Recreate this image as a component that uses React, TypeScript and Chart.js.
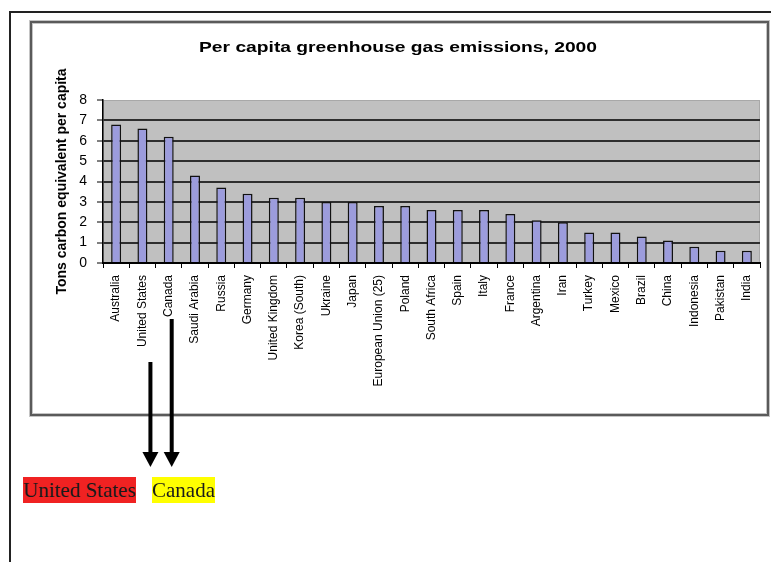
import React, { useEffect, useRef } from 'react';
import { Chart, registerables } from 'chart.js';

Chart.register(...registerables);

const countries = [
  'Australia', 'United States', 'Canada', 'Saudi Arabia', 'Russia', 'Germany',
  'United Kingdom', 'Korea (South)', 'Ukraine', 'Japan', 'European Union (25)', 'Poland',
  'South Africa', 'Spain', 'Italy', 'France', 'Argentina', 'Iran', 'Turkey', 'Mexico',
  'Brazil', 'China', 'Indonesia', 'Pakistan', 'India',
];
const emissions = [
  6.8, 6.6, 6.2, 4.3, 3.7, 3.4, 3.2, 3.2, 3.0, 3.0, 2.8, 2.8,
  2.6, 2.6, 2.6, 2.4, 2.1, 2.0, 1.5, 1.5, 1.3, 1.1, 0.8, 0.6, 0.6,
];
const yMin = 0;
const yMax = 8;
const yStep = 1;
const chartTitle = 'Per capita greenhouse gas emissions, 2000';
const yAxisTitle = 'Tons carbon equivalent per capita';
const calloutNames = ['United States', 'Canada'];
const calloutColors = ['#f02222', '#ffff00'];

export default function App() {
  const ref = useRef<HTMLCanvasElement>(null);

  useEffect(() => {
    const canvas = ref.current;
    if (!canvas) return;

    const decor = {
      id: 'decor',
      beforeDraw(chart: any) {
        const { ctx, chartArea: a } = chart;
        ctx.save();
        // outer page frame
        ctx.strokeStyle = '#222';
        ctx.lineWidth = 2;
        ctx.beginPath();
        ctx.moveTo(10, 562);
        ctx.lineTo(10, 12);
        ctx.lineTo(771, 12);
        ctx.stroke();
        // inner chart box
        ctx.strokeStyle = '#c4c4c4';
        ctx.lineWidth = 4;
        ctx.strokeRect(31, 22, 737, 393);
        ctx.strokeStyle = '#5a5a5a';
        ctx.lineWidth = 2;
        ctx.strokeRect(31, 22, 737, 393);
        // plot background
        ctx.fillStyle = '#c0c0c0';
        ctx.fillRect(a.left, a.top, a.right - a.left, a.bottom - a.top);
        ctx.strokeStyle = '#a8a8a8';
        ctx.lineWidth = 1;
        ctx.strokeRect(a.left + 0.5, a.top + 0.5, a.right - a.left - 1, a.bottom - a.top);
        ctx.restore();
      },
      afterDraw(chart: any) {
        const { ctx } = chart;
        ctx.save();
        // title
        ctx.font = 'bold 14px Arial';
        const w = ctx.measureText(chartTitle).width;
        ctx.translate(398, 48);
        ctx.scale(398 / w, 1);
        ctx.fillStyle = '#000';
        ctx.textAlign = 'center';
        ctx.textBaseline = 'middle';
        ctx.fillText(chartTitle, 0, 0);
        ctx.restore();

        // callout arrows
        const xs = chart.scales.x;
        const arrows = [
          { name: calloutNames[0], dx: 8, top: 362 },
          { name: calloutNames[1], dx: 3, top: 319 },
        ];
        ctx.save();
        ctx.strokeStyle = '#000';
        ctx.fillStyle = '#000';
        arrows.forEach((ar) => {
          const x = xs.getPixelForValue(countries.indexOf(ar.name)) + ar.dx;
          ctx.lineWidth = 4;
          ctx.beginPath();
          ctx.moveTo(x, ar.top);
          ctx.lineTo(x, 454);
          ctx.stroke();
          ctx.beginPath();
          ctx.moveTo(x - 8, 452);
          ctx.lineTo(x + 8, 452);
          ctx.lineTo(x, 467);
          ctx.closePath();
          ctx.fill();
        });
        ctx.restore();
      },
    };

    const chart = new Chart(canvas, {
      type: 'bar',
      data: {
        labels: countries,
        datasets: [
          {
            data: emissions,
            backgroundColor: '#9c9cdc',
            borderColor: '#111',
            borderWidth: 1.5,
            barPercentage: 0.38,
            categoryPercentage: 1,
          },
        ],
      },
      options: {
        responsive: false,
        animation: false,
        devicePixelRatio: 1,
        layout: { padding: { left: 54, top: 100, right: 11, bottom: 0 } },
        plugins: {
          legend: { display: false },
          tooltip: { enabled: false },
          title: { display: false },
        },
        scales: {
          x: {
            grid: {
              display: true,
              drawOnChartArea: false,
              drawTicks: true,
              tickLength: 5,
              color: '#000',
              offset: true,
            },
            border: { display: true, color: '#000', width: 2 },
            ticks: {
              autoSkip: false,
              maxRotation: 90,
              minRotation: 90,
              font: { family: 'Arial', size: 12 },
              color: '#000',
              padding: 7,
            },
            afterFit(s: any) {
              s.height = 299;
            },
          },
          y: {
            min: yMin,
            max: yMax,
            ticks: {
              stepSize: yStep,
              font: { family: 'Arial', size: 14 },
              color: '#000',
              padding: 10,
            },
            grid: {
              color: (c: any) => (c.tick && c.tick.value === yMax ? 'rgba(0,0,0,0)' : '#2e2e2e'),
              lineWidth: 2,
              tickColor: '#000',
              tickWidth: 1,
              tickLength: 6,
            },
            border: { display: true, color: '#000', width: 1.5 },
            title: {
              display: true,
              text: yAxisTitle,
              font: { family: 'Arial', size: 14, weight: 'bold' },
              color: '#000',
              padding: 0,
            },
            afterFit(s: any) {
              s.width = 49;
            },
          },
        },
      },
      plugins: [decor],
    });
    return () => chart.destroy();
  }, []);

  const labelStyle = (left: number, width: number, bg: string): React.CSSProperties => ({
    position: 'absolute',
    left,
    top: 477,
    width,
    height: 26,
    background: bg,
    fontFamily: '"Liberation Serif", "Times New Roman", serif',
    fontSize: 21,
    lineHeight: '26px',
    color: '#1a1a1a',
    whiteSpace: 'nowrap',
    overflow: 'hidden',
  });

  return (
    <div style={{ position: 'absolute', left: 0, top: 0, width: 771, height: 562, background: '#fff' }}>
      <canvas ref={ref} width={771} height={562} style={{ display: 'block', width: 771, height: 562 }} />
      <div style={labelStyle(23, 113, calloutColors[0])}>{calloutNames[0]}</div>
      <div style={labelStyle(152, 63, calloutColors[1])}>{calloutNames[1]}</div>
    </div>
  );
}
